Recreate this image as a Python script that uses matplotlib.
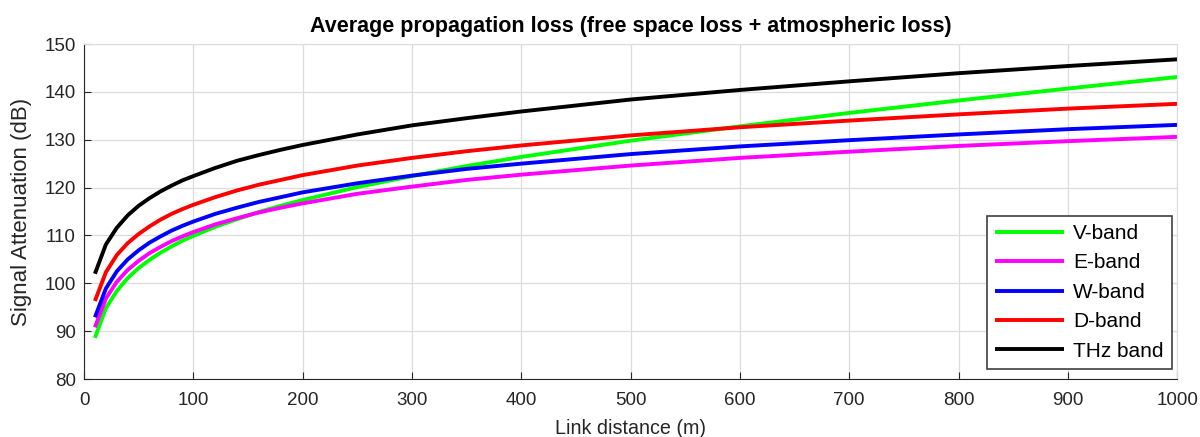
import matplotlib.pyplot as plt

# Link distance samples (m)
distance = [10, 20, 30, 40, 50, 60, 70, 80, 90, 100, 120, 140, 160, 180, 200,
            250, 300, 350, 400, 500, 600, 700, 800, 900, 1000]

# Average propagation loss (dB)
v_band = [88.6, 94.8, 98.4, 101.1, 103.2, 104.9, 106.4, 107.7, 108.9, 109.9,
          111.8, 113.4, 114.9, 116.2, 117.4, 120.1, 122.4, 124.5, 126.4,
          129.8, 132.8, 135.6, 138.2, 140.7, 143.1]
e_band = [90.8, 96.8, 100.3, 102.8, 104.7, 106.3, 107.6, 108.8, 109.8, 110.7,
          112.3, 113.6, 114.8, 115.8, 116.7, 118.7, 120.2, 121.6, 122.7,
          124.6, 126.2, 127.5, 128.7, 129.7, 130.6]
w_band = [92.9, 98.9, 102.5, 105.0, 106.9, 108.5, 109.8, 111.0, 112.0, 112.9,
          114.5, 115.8, 117.0, 118.0, 119.0, 120.9, 122.5, 123.9, 125.0,
          127.0, 128.6, 129.9, 131.1, 132.2, 133.1]
d_band = [96.3, 102.3, 105.9, 108.4, 110.3, 111.9, 113.3, 114.5, 115.5, 116.4,
          118.0, 119.4, 120.6, 121.6, 122.6, 124.6, 126.2, 127.6, 128.8,
          130.9, 132.6, 134.0, 135.3, 136.5, 137.5]
thz_band = [102.0, 108.1, 111.6, 114.2, 116.2, 117.8, 119.2, 120.4, 121.5, 122.4,
            124.1, 125.6, 126.8, 127.9, 128.9, 131.1, 133.0, 134.5, 135.9,
            138.4, 140.4, 142.2, 143.9, 145.4, 146.8]

series = [
    ("V-band", v_band, "#00ff00"),
    ("E-band", e_band, "#ff00ff"),
    ("W-band", w_band, "#0000ff"),
    ("D-band", d_band, "#ff0000"),
    ("THz band", thz_band, "#000000"),
]

plt.rcParams["font.family"] = ["Liberation Sans", "DejaVu Sans"]
text_color = "#262626"

fig = plt.figure(figsize=(12, 4.37), dpi=100)
ax = fig.add_axes([0.07, 0.1327, 0.911, 0.7666])

for label, values, color in series:
    ax.plot(distance, values, color=color, lw=2.8, label=label,
            solid_capstyle="butt")

ax.set_xlim(0, 1000)
ax.set_ylim(80, 150)
ax.set_xticks(range(0, 1001, 100))
ax.set_yticks(range(80, 151, 10))
ax.grid(True, color="#dcdcdc", lw=0.9)
ax.set_axisbelow(True)

for side in ["top", "right"]:
    ax.spines[side].set_color("#dcdcdc")
for side in ["left", "bottom"]:
    ax.spines[side].set_color(text_color)
ax.tick_params(direction="in", length=5, colors=text_color, labelsize=13.5,
               top=False, right=False)
ax.tick_params(axis="x", pad=9.5)
ax.tick_params(axis="y", pad=6)

ax.set_xlabel("Link distance (m)", fontsize=14.2, color=text_color, labelpad=7)
ax.set_ylabel("Signal Attenuation (dB)", fontsize=16, color=text_color,
              labelpad=9)
ax.set_title("Average propagation loss (free space loss + atmospheric loss)",
             fontsize=15.5, fontweight="bold", color="black", pad=9)

leg = ax.legend(loc="lower right", fontsize=15, frameon=True, fancybox=False,
                edgecolor="#404040", framealpha=1, handlelength=3.3,
                borderpad=0.4, labelspacing=0.5, handletextpad=0.45,
                borderaxespad=0, bbox_to_anchor=(0.9954, 0.030))
leg.get_frame().set_linewidth(1.2)

fig.savefig("out.png", dpi=100)
